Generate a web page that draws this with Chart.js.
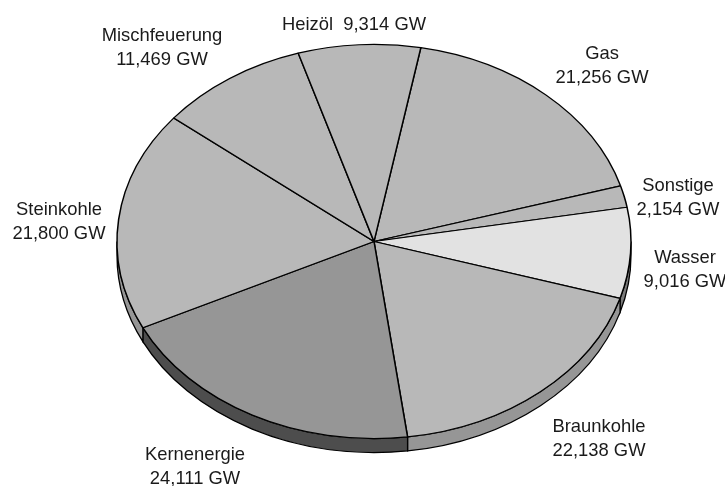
<!DOCTYPE html>
<html>
<head>
<meta charset="utf-8">
<style>
  html, body { margin: 0; padding: 0; background: #fff; }
  canvas { display: block; }
</style>
<script src="https://cdn.jsdelivr.net/npm/chart.js@4"></script>
</head>
<body>
<canvas id="pie" width="725" height="486"></canvas>
<script>
// power plant capacity by fuel, clockwise starting at Gas
const categories = ["Gas", "Sonstige", "Wasser", "Braunkohle", "Kernenergie", "Steinkohle", "Mischfeuerung", "Heizöl"];
const capacityGW = [21.256, 2.154, 9.016, 22.138, 24.111, 21.8, 11.469, 9.314];
const valueLabels = ["21,256 GW", "2,154 GW", "9,016 GW", "22,138 GW", "24,111 GW", "21,800 GW", "11,469 GW", "9,314 GW"];

const topColors = ["#b8b8b8", "#b8b8b8", "#e2e2e2", "#b8b8b8", "#969696", "#b8b8b8", "#b8b8b8", "#b8b8b8"];
const sideColors = ["#969696", "#969696", "#7a7a7a", "#969696", "#4d4d4d", "#969696", "#969696", "#969696"];

// text anchors: centre x, baseline y of the first line
const labelSpots = [[602, 59], [678, 191], [685, 263], [599, 432], [195, 460], [59, 215], [162, 41], [354, 30]];

const centerX = 374;
const centerY = 241.5;
const radiusX = 257;
const squash = 0.767;
const depth = 14;

// tilts the flat pie into an ellipse and draws the rim under it
const tiltPlugin = {
  id: "tilt",
  beforeDatasetsDraw(chart) {
    const ctx = chart.ctx;
    const arcs = chart.getDatasetMeta(0).data;
    ctx.save();
    ctx.strokeStyle = "#000";
    ctx.lineWidth = 1.3;
    arcs.forEach((arc, i) => {
      const from = Math.max(arc.startAngle, 0);
      const to = Math.min(arc.endAngle, Math.PI);
      if (to <= from) return;
      ctx.beginPath();
      ctx.ellipse(centerX, centerY, radiusX, radiusX * squash, 0, from, to);
      ctx.ellipse(centerX, centerY + depth, radiusX, radiusX * squash, 0, to, from, true);
      ctx.closePath();
      ctx.fillStyle = sideColors[i];
      ctx.fill();
      ctx.stroke();
    });
    ctx.restore();

    const first = arcs[0];
    ctx.save();
    ctx.translate(centerX, centerY);
    ctx.scale(1, squash);
    ctx.translate(-first.x, -first.y);
  },
  afterDatasetsDraw(chart) {
    chart.ctx.restore();
  },
  afterDraw(chart) {
    const ctx = chart.ctx;
    ctx.save();
    ctx.font = '18.4px "Liberation Sans"';
    ctx.fillStyle = "#1a1a1a";
    ctx.textAlign = "center";
    categories.forEach((name, i) => {
      const [x, y] = labelSpots[i];
      if (name === "Heizöl") {
        ctx.fillText(name + "  " + valueLabels[i], x, y);
      } else {
        ctx.fillText(name, x, y);
        ctx.fillText(valueLabels[i], x, y + 24);
      }
    });
    ctx.restore();
  },
};

const config_pie = {
  type: "pie",
  data: {
    labels: categories,
    datasets: [
      {
        data: capacityGW,
        backgroundColor: topColors,
        borderColor: "#000",
        borderWidth: 1.5,
        radius: radiusX,
      },
    ],
  },
  options: {
    responsive: false,
    animation: false,
    rotation: 10.5,
    plugins: {
      legend: { display: false },
      tooltip: { enabled: false },
    },
  },
  plugins: [tiltPlugin],
};

new Chart(document.getElementById("pie"), config_pie);
</script>
</body>
</html>
